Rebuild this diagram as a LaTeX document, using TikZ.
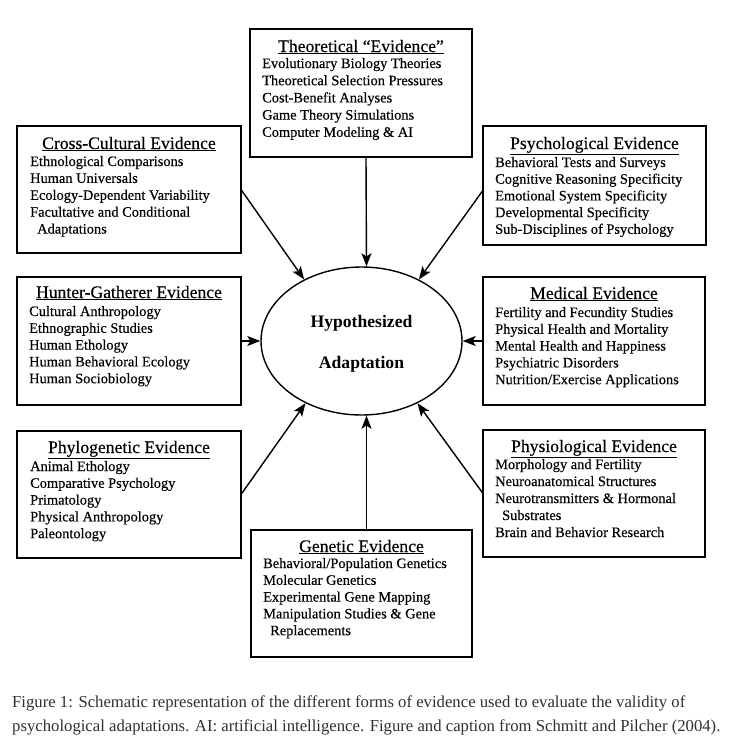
\documentclass[tikz,border=0pt]{standalone}
\usepackage{fontspec}
\setmainfont{Liberation Serif}
\newfontfamily\scanfont[FakeBold=0.3]{Liberation Serif}
\usetikzlibrary{shapes.geometric,arrows.meta,calc}
\definecolor{captext}{HTML}{303030}
\begin{document}
\begin{tikzpicture}[x=1pt,y=-1pt,
  evframe/.style={draw, line width=1.4pt, inner sep=0pt, outer sep=0pt, anchor=north west},
  ttl/.style={font=\scanfont\fontsize{17.6}{20}\selectfont, anchor=base, inner sep=0pt},
  itm/.style={font=\scanfont\fontsize{14.4}{17}\selectfont, anchor=base west, inner sep=0pt},
  arr/.style={line width=1.4pt, -{Stealth[length=13pt,width=10pt,inset=3pt]}},
  captxt/.style={font=\fontsize{16.7}{19}\selectfont, text=captext, anchor=base west, inner sep=0pt}]
\useasboundingbox (0,0) rectangle (736,755);
\fill[white] (0,0) rectangle (736,755);

% Theoretical
\node[evframe, minimum width=222, minimum height=128] (th) at (250,29) {};
\node[ttl] (th-t) at ($(th.north)+(0,23)$) {\underline{Theoretical “Evidence”}};
\foreach \t [count=\i from 0] in {Evolutionary Biology Theories, Theoretical Selection Pressures, Cost-Benefit Analyses, Game Theory Simulations, Computer Modeling \& AI}
  \node[itm] (th-\i) at (262,68+17.2*\i) {\t};

% Cross-cultural
\node[evframe, minimum width=224, minimum height=127] (cc) at (17,126) {};
\node[ttl] (cc-t) at ($(cc.north)+(0,23)$) {\underline{Cross-Cultural Evidence}};
\foreach \t [count=\i from 0] in {Ethnological Comparisons, Human Universals, Ecology-Dependent Variability, Facultative and Conditional, \kern7pt Adaptations}
  \node[itm] (cc-\i) at (30,166+16.9*\i) {\t};

% Psychological
\node[evframe, minimum width=223, minimum height=119] (ps) at (483,126) {};
\node[ttl] (ps-t) at ($(ps.north)+(0,23)$) {\underline{Psychological Evidence}};
\foreach \t [count=\i from 0] in {Behavioral Tests and Surveys, Cognitive Reasoning Specificity, Emotional System Specificity, Developmental Specificity, Sub-Disciplines of Psychology}
  \node[itm] (ps-\i) at (495,167+16.7*\i) {\t};

% Hunter-Gatherer
\node[evframe, minimum width=224, minimum height=128] (hg) at (17,277) {};
\node[ttl] (hg-t) at ($(hg.north)+(0,21)$) {\underline{Hunter-Gatherer Evidence}};
\foreach \t [count=\i from 0] in {Cultural Anthropology, Ethnographic Studies, Human Ethology, Human Behavioral Ecology, Human Sociobiology}
  \node[itm] (hg-\i) at (29,316+16.8*\i) {\t};

% Medical
\node[evframe, minimum width=222, minimum height=128] (md) at (483,277) {};
\node[ttl] (md-t) at ($(md.north)+(0,22)$) {\underline{Medical Evidence}};
\foreach \t [count=\i from 0] in {Fertility and Fecundity Studies, Physical Health and Mortality, Mental Health and Happiness, Psychiatric Disorders, Nutrition/Exercise Applications}
  \node[itm] (md-\i) at (495,317+16.8*\i) {\t};

% Phylogenetic
\node[evframe, minimum width=224, minimum height=127] (ph) at (17,431) {};
\node[ttl] (ph-t) at ($(ph.north)+(0,22)$) {\underline{Phylogenetic Evidence}};
\foreach \t [count=\i from 0] in {Animal Ethology, Comparative Psychology, Primatology, Physical Anthropology, Paleontology}
  \node[itm] (ph-\i) at (30,471+16.8*\i) {\t};

% Physiological
\node[evframe, minimum width=222, minimum height=127] (py) at (483,430) {};
\node[ttl] (py-t) at ($(py.north)+(0,22)$) {\underline{Physiological Evidence}};
\foreach \t [count=\i from 0] in {Morphology and Fertility, Neuroanatomical Structures, Neurotransmitters \& Hormonal, \kern7pt Substrates, Brain and Behavior Research}
  \node[itm] (py-\i) at (495,469+17*\i) {\t};

% Genetic
\node[evframe, minimum width=221, minimum height=127] (ge) at (251,530) {};
\node[ttl] (ge-t) at ($(ge.north)+(0,22)$) {\underline{Genetic Evidence}};
\foreach \t [count=\i from 0] in {Behavioral/Population Genetics, Molecular Genetics, Experimental Gene Mapping, Manipulation Studies \& Gene, \kern7pt Replacements}
  \node[itm] (ge-\i) at (263,568+16.8*\i) {\t};

% Central ellipse
\node[draw, ellipse, line width=1.4pt, minimum width=201, minimum height=148, inner sep=0pt] (ell) at (361.5,341) {};
\node[font=\bfseries\fontsize{17.6}{20}\selectfont, anchor=base, inner sep=0pt] (h1) at (361.5,327) {Hypothesized};
\node[font=\bfseries\fontsize{17.6}{20}\selectfont, anchor=base, inner sep=0pt] (h2) at (361.5,368) {Adaptation};

% Arrows
\draw[arr] ([xshift=5pt]th.south) -- ([xshift=5pt]ell.north);
\draw[arr] (cc.east) -- (ell.133);
\draw[arr] ($(ps.north west)!0.54!(ps.south west)$) -- (ell.47);
\draw[arr] (hg.east) -- (ell.west);
\draw[arr] (md.west) -- (ell.east);
\draw[arr] (ph.east) -- (ell.228);
\draw[arr] (py.west) -- (ell.312);
\draw[arr] ([xshift=5pt]ge.north) -- ([xshift=5pt]ell.south);

% Caption
\node[captxt] (c1) at (12,707) {Figure 1: Schematic representation of the different forms of evidence used to evaluate the validity of};
\node[captxt] (c2) at (12,731) {psychological adaptations. AI: artificial intelligence. Figure and caption from Schmitt and Pilcher (2004).};
\end{tikzpicture}
\end{document}
